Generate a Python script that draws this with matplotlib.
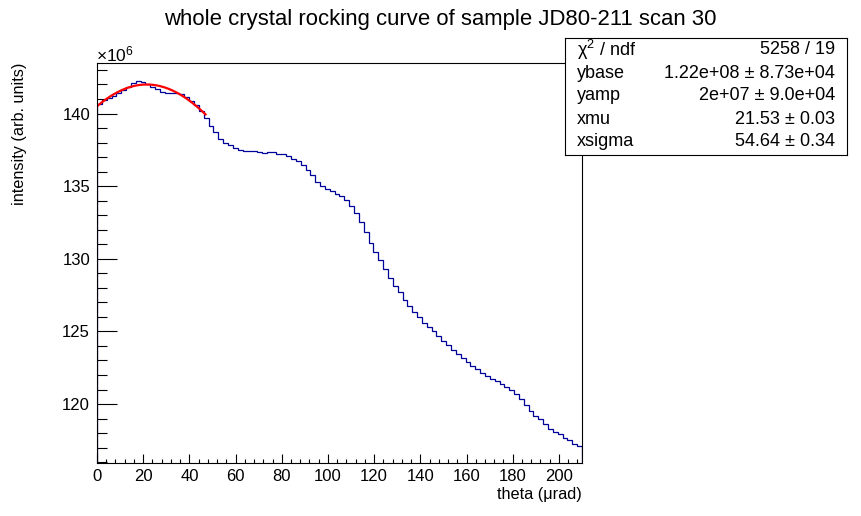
# rocking curve histogram with gaussian fit, ROOT style

import numpy as np
import matplotlib
matplotlib.use("Agg")
import matplotlib.pyplot as plt
from matplotlib.ticker import MultipleLocator

plt.rcParams['font.family'] = ['Liberation Sans', 'DejaVu Sans']
plt.rcParams['mathtext.fontset'] = 'custom'
plt.rcParams['mathtext.rm'] = 'Liberation Sans'
plt.rcParams['mathtext.it'] = 'Liberation Sans:italic'

# binning
x_min, x_max, n_bins = 0.0, 210.0, 100

# bin contents (x 1e6)
counts = [
    140.65, 140.90, 141.05, 141.20, 141.40, 141.60, 141.85, 142.08, 142.22, 142.18,
    142.00, 141.80, 141.67, 141.50, 141.42, 141.42, 141.40, 141.33, 141.12, 140.88,
    140.60, 140.18, 139.67, 139.14, 138.70, 138.22, 138.00, 137.83, 137.60, 137.49,
    137.40, 137.40, 137.40, 137.33, 137.26, 137.33, 137.33, 137.19, 137.19, 137.05,
    136.85, 136.70, 136.43, 136.14, 135.75, 135.26, 135.00, 134.79, 134.65, 134.46,
    134.32, 134.03, 133.62, 133.13, 132.51, 131.82, 131.08, 130.44, 129.89, 129.27,
    128.65, 128.16, 127.69, 127.16, 126.74, 126.31, 125.98, 125.57, 125.27, 125.00,
    124.68, 124.31, 124.03, 123.69, 123.42, 123.14, 122.87, 122.59, 122.38, 122.11,
    121.94, 121.72, 121.60, 121.37, 121.14, 120.94, 120.66, 120.36, 119.90, 119.49,
    119.15, 118.96, 118.60, 118.25, 118.05, 117.91, 117.65, 117.49, 117.24, 117.10,
]

# fit result (gaussian on a base)
ybase = 1.22e8
yamp = 2e7
xmu = 21.53
xsigma = 54.64
fit_range = (0.0, 47.0)

stat_names = ["χ$^{2}$ / ndf", "ybase", "yamp", "xmu", "xsigma"]
stat_values = ["5258 / 19", "1.22e+08 ± 8.73e+04", "2e+07 ± 9.0e+04",
               "21.53 ± 0.03", "54.64 ± 0.34"]

y_lo, y_hi = 115.94, 143.48

W, H = 862, 516
fig = plt.figure(figsize=(W / 100, H / 100), dpi=100)
ax = fig.add_axes([97 / W, 1 - 463 / H, 485 / W, 400 / H])

edges = np.linspace(x_min, x_max, n_bins + 1)
ax.stairs(counts, edges, baseline=y_lo, color='#000099', linewidth=0.9)

xf = np.linspace(fit_range[0], fit_range[1], 200)
yf = (ybase + yamp * np.exp(-0.5 * ((xf - xmu) / xsigma) ** 2)) / 1e6
ax.plot(xf, yf, color='#ff0000', linewidth=1.6)

ax.set_xlim(x_min, x_max)
ax.set_ylim(y_lo, y_hi)
ax.xaxis.set_major_locator(MultipleLocator(20))
ax.xaxis.set_minor_locator(MultipleLocator(4))
ax.yaxis.set_major_locator(MultipleLocator(5))
ax.yaxis.set_minor_locator(MultipleLocator(1))
ax.tick_params(axis='both', which='both', direction='in', labelsize=12, width=0.8)
ax.tick_params(axis='y', which='major', length=14.4, pad=5)
ax.tick_params(axis='y', which='minor', length=7.2)
ax.tick_params(axis='x', which='major', length=6.3, pad=4)
ax.tick_params(axis='x', which='minor', length=3.1)
for s in ax.spines.values():
    s.set_linewidth(0.8)

fig.text(440 / W, 1 - 20 / H, "whole crystal rocking curve of sample JD80-211 scan 30",
         ha='center', va='center', fontsize=15.9)
fig.text(582 / W, 1 - 494 / H, "theta (μrad)", ha='right', va='center', fontsize=11.7)
fig.text(20 / W, 1 - 63 / H, "intensity (arb. units)", ha='center', va='top',
         rotation=90, fontsize=11.7)
fig.text(96 / W, 1 - 54 / H, r"$\times$10$^{6}$", ha='left', va='center', fontsize=12.5)

# stats box
box = fig.add_axes([565 / W, 1 - 155 / H, 282 / W, 117 / H])
box.set_xticks([])
box.set_yticks([])
for s in box.spines.values():
    s.set_linewidth(0.8)
rows = [50, 73, 96, 119, 142]
for yr, name, val in zip(rows, stat_names, stat_values):
    fig.text(577 / W, 1 - yr / H, name, ha='left', va='center', fontsize=13)
    fig.text(835 / W, 1 - yr / H, val, ha='right', va='center', fontsize=13)

fig.savefig("out.png", dpi=100)
